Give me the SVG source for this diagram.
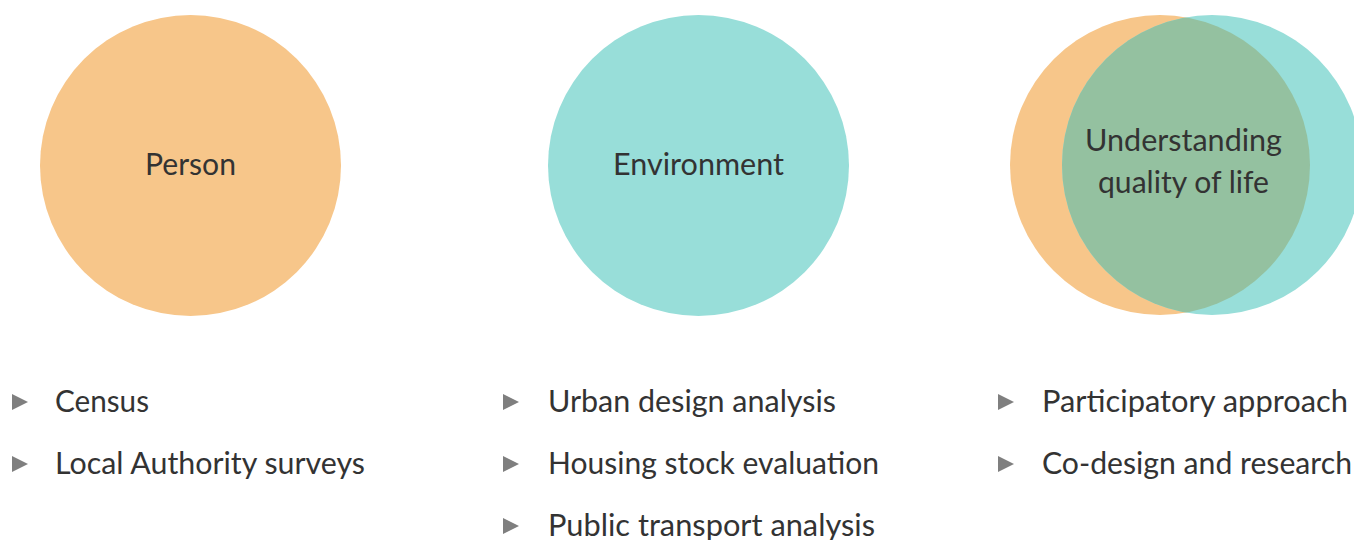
<svg xmlns="http://www.w3.org/2000/svg" width="1354" height="540" viewBox="0 0 1354 540">
<style>
.lbl{font-family:Lato,"Source Sans Pro","Noto Sans",sans-serif;font-size:30px;fill:#333333}
.bul{fill:#7f7f7f}
.orange{fill:#F7C68A}
.teal{fill:#98DED9}
</style>
<defs>
<polygon id="tri" points="0,0 16,8 0,16"/>
<clipPath id="cp"><circle cx="1160" cy="165" r="150"/></clipPath>
</defs>
<rect width="1354" height="540" fill="#ffffff"/>
<g id="person">
<circle class="orange" cx="190.5" cy="165.5" r="150.5"/>
<text class="lbl" x="190.5" y="175" text-anchor="middle" textLength="91" lengthAdjust="spacingAndGlyphs">Person</text>
</g>
<g id="environment">
<circle class="teal" cx="698.5" cy="165.5" r="150.5"/>
<text class="lbl" x="698.5" y="175" text-anchor="middle" textLength="171" lengthAdjust="spacingAndGlyphs">Environment</text>
</g>
<g id="quality">
<circle class="orange" cx="1160" cy="165" r="150"/>
<circle class="teal" cx="1212" cy="165" r="150"/>
<circle cx="1212" cy="165" r="150" fill="#94C1A0" clip-path="url(#cp)"/>
<text class="lbl" x="1183.5" y="151" text-anchor="middle" textLength="197" lengthAdjust="spacingAndGlyphs">Understanding</text>
<text class="lbl" x="1183.5" y="193" text-anchor="middle" textLength="171" lengthAdjust="spacingAndGlyphs">quality of life</text>
</g>
<g id="person-list">
<use href="#tri" class="bul" x="12" y="394"/>
<text class="lbl" x="55" y="412" textLength="94" lengthAdjust="spacingAndGlyphs">Census</text>
<use href="#tri" class="bul" x="12" y="456"/>
<text class="lbl" x="55" y="474" textLength="310" lengthAdjust="spacingAndGlyphs">Local Authority surveys</text>
</g>
<g id="environment-list">
<use href="#tri" class="bul" x="503" y="394"/>
<text class="lbl" x="548" y="412" textLength="288" lengthAdjust="spacingAndGlyphs">Urban design analysis</text>
<use href="#tri" class="bul" x="503" y="456"/>
<text class="lbl" x="548" y="474" textLength="331" lengthAdjust="spacingAndGlyphs">Housing stock evaluation</text>
<use href="#tri" class="bul" x="503" y="518"/>
<text class="lbl" x="548" y="536" textLength="327" lengthAdjust="spacingAndGlyphs">Public transport analysis</text>
</g>
<g id="quality-list">
<use href="#tri" class="bul" x="998" y="394"/>
<text class="lbl" x="1042" y="412" textLength="306" lengthAdjust="spacingAndGlyphs">Participatory approach</text>
<use href="#tri" class="bul" x="998" y="456"/>
<text class="lbl" x="1042" y="474" textLength="310" lengthAdjust="spacingAndGlyphs">Co-design and research</text>
</g>
<g id="connectors"/>
</svg>
